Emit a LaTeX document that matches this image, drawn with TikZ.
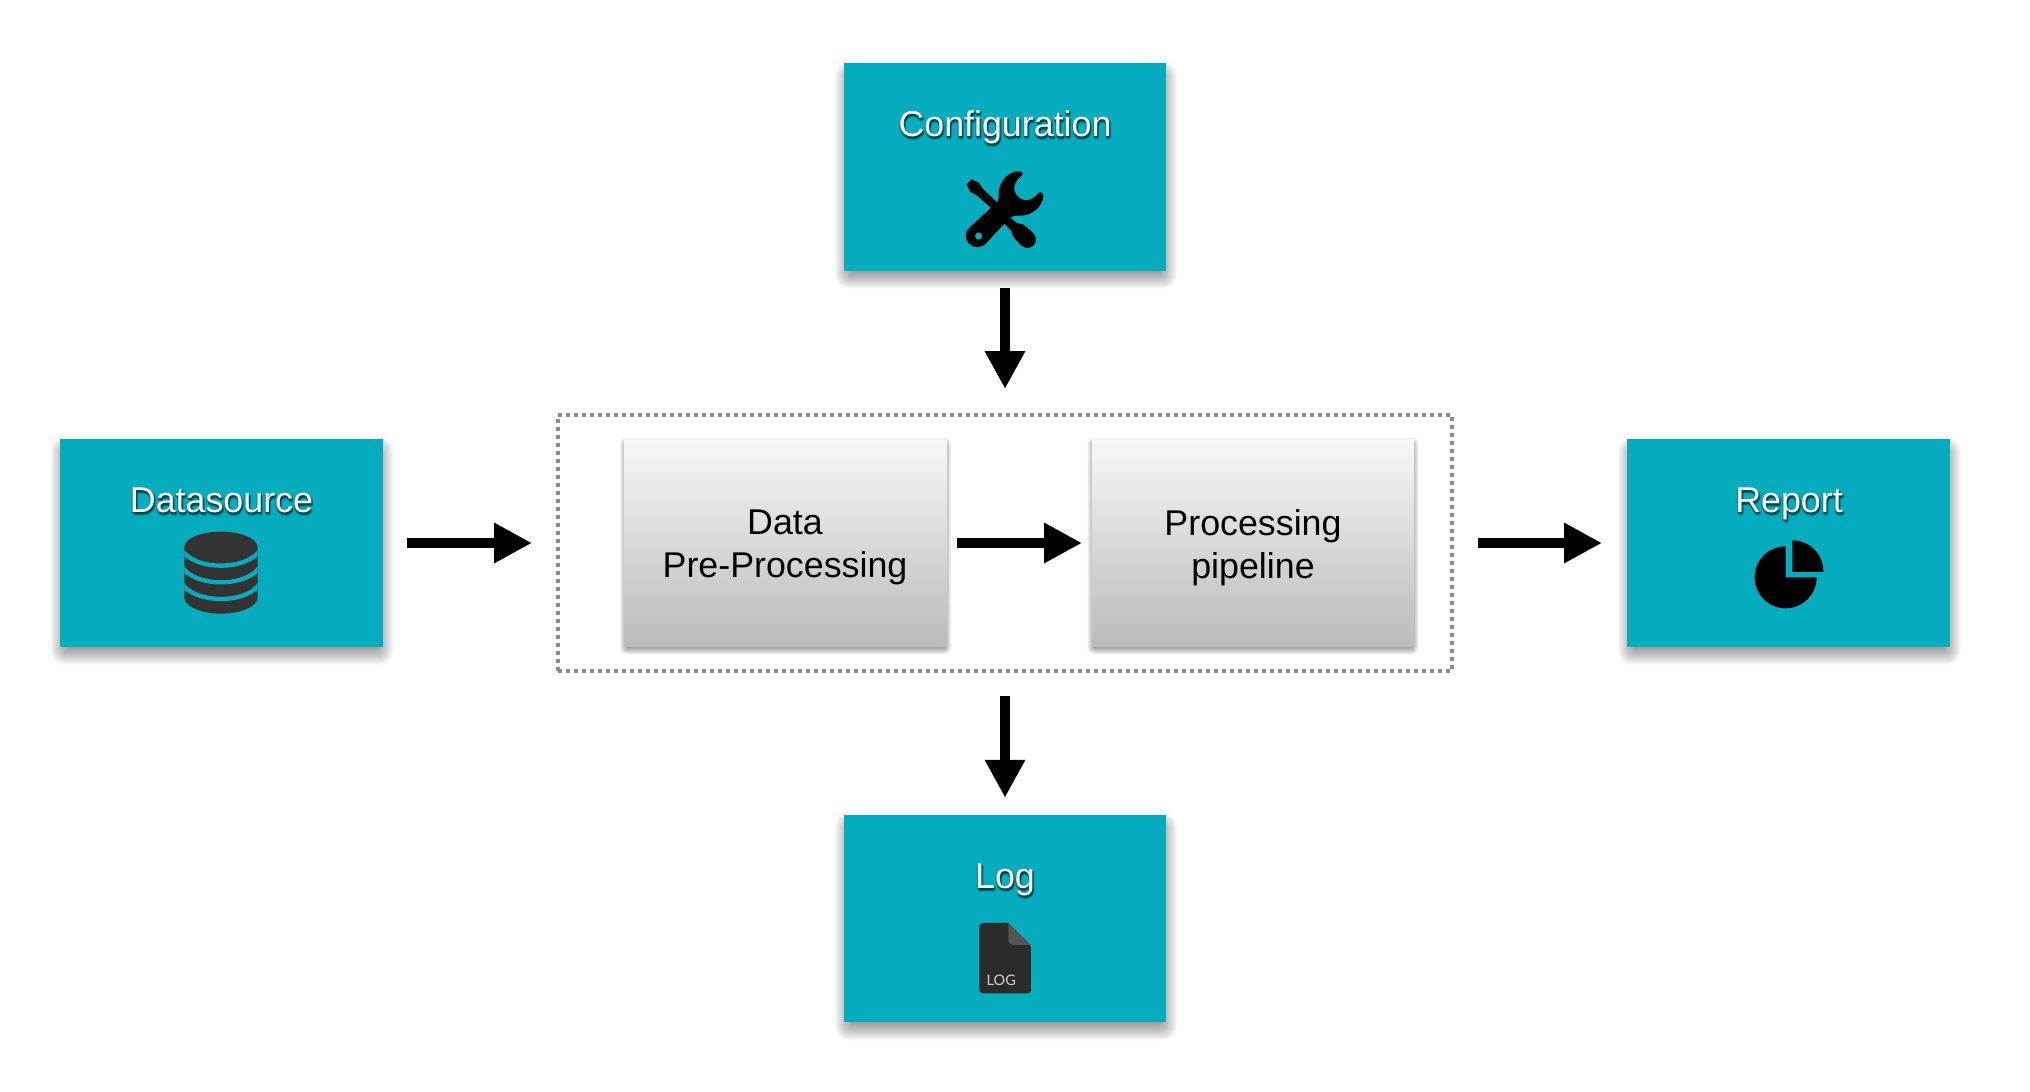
\documentclass[tikz,border=0pt]{standalone}
\usepackage{fontspec}
\setmainfont{Liberation Sans}
\newfontfamily\latofont{Lato}
\usetikzlibrary{arrows.meta,backgrounds}
\definecolor{tealbox}{HTML}{05ACBE}
\definecolor{iconDark}{HTML}{333333}
\definecolor{fileDark}{HTML}{2B2B2B}
\definecolor{fileFold}{HTML}{555555}
\definecolor{dotgray}{HTML}{8C8C8E}
\definecolor{shadeTeal}{HTML}{003A44}
\newcommand{\softshadow}[6]{% node, dx, dy, blur, layers, opacity
  \begin{pgfonlayer}{background}
  \foreach \k in {1,...,#5}{
    \pgfmathsetmacro{\grow}{#4*(1-2*(\k-1)/(#5-1))}
    \pgfmathsetmacro{\rc}{max(\grow+#4,0.01)*0.7}
    \fill[black,opacity=#6,rounded corners=\rc pt]
      ([shift={({(#2)-(\grow)},{(#3)-(\grow)})}]#1.north west) rectangle
      ([shift={({(#2)+(\grow)},{(#3)+(\grow)})}]#1.south east);
  }
  \end{pgfonlayer}
}
\newcommand{\textshade}[3]{% x, y, text
  \foreach \dx/\dy/\op in {0/1/.35,1/2/.45,-1/2/.2,2/2/.25,0/3/.3,1/3/.25,2/3/.12,-1/1/.12,2/1/.2,1/4/.12}{
    \node[lbltxt,text=shadeTeal,text opacity=\op] at (#1+\dx,#2+\dy) {#3};
  }
}
\tikzset{
  x=1pt,y=-1pt,
  tealnode/.style={fill=tealbox,minimum width=322pt,minimum height=207.5pt,inner sep=0pt,outer sep=0pt},
  widetealnode/.style={tealnode,minimum width=323pt},
  graynode/.style={top color=white!97!black,bottom color=black!27,minimum width=322pt,minimum height=207.5pt,inner sep=0pt,outer sep=0pt},
  groupbox/.style={draw=dotgray,line width=3.6pt,dash pattern=on 3.6pt off 4.4pt,minimum width=894pt,minimum height=256pt,inner sep=0pt,outer sep=0pt},
  lbltxt/.style={anchor=base,inner sep=0pt,font=\fontsize{35.8}{44}\selectfont},
  boxtxt/.style={align=center,inner sep=0pt,font=\fontsize{35.8}{43}\selectfont,text=black},
  bigarrow/.style={line width=10pt,-{Triangle[length=38pt,width=38pt]}},
}
\begin{document}
\begin{tikzpicture}
\useasboundingbox (0,0) rectangle (2030,1092);
% boxes
\node[tealnode] (config) at (1005,167) {};
\node[widetealnode] (source) at (221,543) {};
\node[widetealnode] (report) at (1788.5,543) {};
\node[tealnode] (logbox) at (1005,918.5) {};
\node[groupbox] (group) at (1005,543) {};
\node[graynode] (prep) at (785.5,543) {};
\node[graynode] (pipe) at (1253,543) {};
\softshadow{config}{1}{8}{10}{20}{0.028}
\softshadow{source}{1}{8}{10}{20}{0.028}
\softshadow{report}{1}{8}{10}{20}{0.028}
\softshadow{logbox}{1}{8}{10}{20}{0.028}
\softshadow{prep}{0}{3}{4.5}{10}{0.06}
\softshadow{pipe}{0}{3}{4.5}{10}{0.06}
% labels
\textshade{1005}{136}{Configuration}
\node[lbltxt,text=white] (tconfig) at (1005,136) {Configuration};
\textshade{221.5}{512}{Datasource}
\node[lbltxt,text=white] (tsource) at (221.5,512) {Datasource};
\textshade{1789}{512}{Report}
\node[lbltxt,text=white] (treport) at (1789,512) {Report};
\textshade{1005}{888}{Log}
\node[lbltxt,text=white] (tlog) at (1005,888) {Log};
\node[boxtxt] (tprep) at (785,547.5) {Data\\Pre-Processing};
\node[boxtxt] (tpipe) at (1253,547.5) {Processing\\pipeline};
% connectors
\draw[bigarrow,shorten <=17pt,shorten >=26pt] (config.south) -- (config.south |- group.north);
\draw[bigarrow,shorten <=25pt,shorten >=17pt] (group.south) -- (logbox.north);
\draw[bigarrow,shorten <=24pt,shorten >=26pt] (source.east) -- (group.west);
\draw[bigarrow,shorten <=10pt,shorten >=10pt] (prep.east) -- (pipe.west);
\draw[bigarrow,shorten <=26pt,shorten >=25pt] (group.east) -- (report.west);
% wrench + screwdriver
\begin{scope}[shift={(840,50)},x=0.3333pt,y=-0.3333pt]
  \fill[black] (380,403) -- (394,388) -- (416,398) -- (428,416) -- (472,458) -- (458,478) -- (410,436) -- (391,426) -- cycle;
  \fill[black] (505,498) -- (532,520) -- (545,522) .. controls (552,524) and (562,532) .. (582,552)
     .. controls (592,566) and (587,580) .. (580,587) .. controls (570,596) and (556,596) .. (546,588)
     .. controls (530,572) and (520,564) .. (516,552) -- (515,544) -- (490,518) -- cycle;
  \fill[black,even odd rule] (388,533) -- (470,458)
     .. controls (478,450) and (476,440) .. (476,428)
     .. controls (478,395) and (505,362) .. (538,364)
     .. controls (550,365) and (550,372) .. (544,378)
     .. controls (528,390) and (522,404) .. (523,418)
     .. controls (526,440) and (548,456) .. (566,450)
     .. controls (580,446) and (588,436) .. (594,430)
     .. controls (602,424) and (610,428) .. (610,438)
     .. controls (608,470) and (576,498) .. (540,497)
     .. controls (528,497) and (518,496) .. (510,503)
     -- (440,578) .. controls (424,596) and (400,596) .. (386,580)
     .. controls (374,566) and (374,546) .. (388,533) -- cycle
     (416,558) circle [radius=11];
\end{scope}
% database
\begin{scope}[shift={(40,420)},x=0.3333pt,y=-0.3333pt]
  \begin{scope}
    \clip (433,335) rectangle (653,585);
    \fill[iconDark] (433,382) .. controls (433,356) and (482,335) .. (543,335)
      .. controls (604,335) and (653,356) .. (653,382) -- (653,533)
      .. controls (653,559) and (604,581) .. (543,581)
      .. controls (482,581) and (433,559) .. (433,533) -- cycle;
    \foreach \yy in {388,438,488}{
      \draw[tealbox,line width=4.3pt] (425,\yy) .. controls (440,\yy+30) and (490,\yy+49) .. (543,\yy+49)
        .. controls (596,\yy+49) and (646,\yy+30) .. (661,\yy);
    }
  \end{scope}
\end{scope}
% pie chart
\begin{scope}[shift={(1600,420)},x=0.3333pt,y=-0.3333pt]
  \begin{scope}
    \clip (440,360) -- (557,360) -- (557,472) -- (680,472) -- (680,580) -- (440,580) -- cycle;
    \fill[black] (557,472) circle [radius=93];
  \end{scope}
  \begin{scope}
    \clip (577,340) rectangle (690,454);
    \fill[black] (577,454) circle [radius=93];
  \end{scope}
\end{scope}
% log file
\begin{scope}[shift={(840,679)},x=0.3333pt,y=-0.3333pt]
  \fill[fileDark,rounded corners=3pt] (418,732) -- (505,732) -- (573,800) -- (573,943) -- (418,943) -- cycle;
  \fill[fileDark] (490,732) -- (505,732) -- (530,760) -- (490,760) -- cycle;
  \fill[fileFold] (505,732) -- (573,798) -- (520,798) .. controls (511,798) and (505,792) .. (505,785) -- cycle;
  \node[inner sep=0pt,text=white!82!black,font=\latofont\fontsize{14.5}{16}\selectfont] (tfile) at (484,903) {LOG};
\end{scope}
\end{tikzpicture}
\end{document}
